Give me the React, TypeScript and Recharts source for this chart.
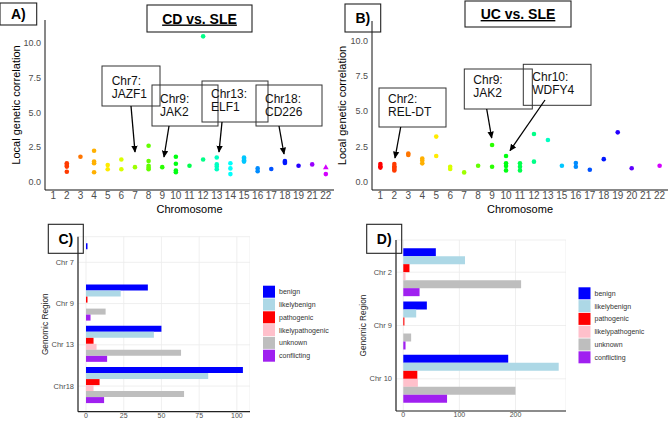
import React from "react";
import { ScatterChart, Scatter, BarChart, Bar, XAxis, YAxis, CartesianGrid } from "recharts";

const FONT = '"Liberation Sans", Arial, Helvetica, sans-serif';
const TICK_GREY = "#4d4d4d";

// A) CD vs. SLE — local genetic correlation per chromosome (one list of values per chromosome)
const cdChromosomes = ["1", "2", "3", "4", "5", "6", "7", "8", "9", "10", "11", "12", "13", "14", "15", "16", "17", "18", "19", "21", "22"];
const cdValues: number[][] = [
  [],
  [1.33, 1.21, 1.09, 0.72],
  [1.8],
  [2.24, 1.45, 1.33, 0.68],
  [1.2, 0.9],
  [1.6, 0.9],
  [1.05],
  [2.6, 1.5, 1.15, 1.0, 0.9],
  [1.05],
  [1.8, 1.3, 0.8, 0.68],
  [1.15],
  [10.5, 1.6],
  [1.75, 1.25, 1.1, 0.9],
  [1.33, 0.96, 0.55],
  [1.75, 1.65, 1.55, 1.45],
  [0.96, 0.75],
  [0.92],
  [1.5, 1.42, 1.35],
  [1.15],
  [1.25],
  [0.55],
];
// the one triangle-shaped point on chromosome 22
const cdTriangleChromosome = "22";
const cdTriangleValues = [1.05];

// B) UC vs. SLE
const ucChromosomes = ["1", "2", "3", "4", "5", "6", "7", "8", "9", "10", "11", "12", "13", "15", "16", "17", "18", "19", "20", "21", "22"];
const ucValues: number[][] = [
  [1.25, 1.1, 1.0],
  [1.25, 1.1, 1.0, 0.9, 0.8],
  [2.0, 1.9],
  [1.65, 1.5, 1.3],
  [3.2, 1.82],
  [1.06, 0.9],
  [0.66],
  [1.13],
  [2.6, 1.06],
  [1.82, 1.3, 1.11, 0.8],
  [1.3, 1.06, 0.8],
  [3.38, 1.42],
  [2.96],
  [1.13],
  [1.32, 1.06],
  [0.85],
  [1.6],
  [3.5],
  [0.95],
  [],
  [1.13],
];
const correlationTicks = [0, 2.5, 5, 7.5, 10];

// C) / D) variant counts by clinical class
const variantClasses = ["benign", "likelybenign", "pathogenic", "likelypathogenic", "unknown", "conflicting"];
const classColors = ["#0000ff", "#add8e6", "#ff0000", "#ffc0cb", "#bebebe", "#a020f0"];

const cRegions = ["Chr 7", "Chr 9", "Chr 13", "Chr18"];
const cBenign = [1, 41, 50, 104];
const cLikelybenign = [0, 23, 45, 81];
const cPathogenic = [0, 1, 5, 9];
const cLikelypathogenic = [0, 0, 7, 5];
const cUnknown = [0, 13, 63, 65];
const cConflicting = [0, 3, 14, 12];
const cTicks = [0, 25, 50, 75, 100];

const dRegions = ["Chr 2", "Chr 9", "Chr 10"];
const dBenign = [58, 42, 187];
const dLikelybenign = [110, 23, 277];
const dPathogenic = [11, 2, 25];
const dLikelypathogenic = [4, 0, 26];
const dUnknown = [210, 14, 200];
const dConflicting = [29, 4, 78];
const dTicks = [0, 100, 200];

const chromColor = (chr: string) => `hsl(${(Number(chr) - 1) * 13.8}, 100%, 50%)`;

function toPoints(chroms: string[], values: number[][]) {
  return chroms.flatMap((c, i) => values[i].map((v) => ({ x: i, y: v, color: chromColor(c) })));
}

function barRows(regions: string[], series: number[][]) {
  return regions.map((region, i) => {
    const row: Record<string, string | number> = { region };
    variantClasses.forEach((c, k) => (row[c] = series[k][i]));
    return row;
  });
}

const Dot = (p: any) => <circle cx={p.cx} cy={p.cy} r={2.3} fill={p.payload.color} />;
const Tri = (p: any) => (
  <polygon points={`${p.cx},${p.cy - 3} ${p.cx - 2.8},${p.cy + 2.2} ${p.cx + 2.8},${p.cy + 2.2}`} fill={p.payload.color} />
);

type CorrProps = {
  chroms: string[];
  points: { x: number; y: number; color: string }[];
  triangles?: { x: number; y: number; color: string }[];
  left: number;
  width: number;
  plotTop: number;
  yWidth: number;
  yDomain: [number, number];
  labelOffset: number;
};

function CorrelationPanel({ chroms, points, triangles, left, width, plotTop, yWidth, yDomain, labelOffset }: CorrProps) {
  return (
    <div style={{ position: "absolute", left, top: 0 }}>
      <ScatterChart width={width} height={220} margin={{ top: plotTop, right: 1, bottom: 0, left: 0 }}>
        <XAxis
          type="number"
          dataKey="x"
          domain={[-0.6, chroms.length - 0.4]}
          allowDataOverflow
          ticks={chroms.map((_, i) => i)}
          interval={0}
          tickFormatter={(i: number) => chroms[i]}
          height={30}
          tickLine={false}
          tickSize={0}
          tickMargin={2}
          axisLine={{ stroke: "#111" }}
          tick={{ fill: TICK_GREY, fontSize: 10, fontFamily: FONT }}
          label={{ value: "Chromosome", position: "insideBottom", offset: 7, fill: "#000", fontSize: 11, fontFamily: FONT }}
        />
        <YAxis
          type="number"
          dataKey="y"
          domain={yDomain}
          allowDataOverflow
          ticks={correlationTicks}
          tickFormatter={(v: number) => v.toFixed(1)}
          width={yWidth}
          tickLine={false}
          tickSize={0}
          tickMargin={4}
          axisLine={{ stroke: "#111" }}
          tick={{ fill: TICK_GREY, fontSize: 9, fontFamily: FONT }}
          label={{
            value: "Local genetic correlation",
            angle: -90,
            position: "insideLeft",
            offset: labelOffset,
            fill: "#000",
            fontSize: 11,
            fontFamily: FONT,
            style: { textAnchor: "middle" },
          }}
        />
        <Scatter data={points} shape={Dot} isAnimationActive={false} />
        {triangles && <Scatter data={triangles} shape={Tri} isAnimationActive={false} />}
      </ScatterChart>
    </div>
  );
}

type BarProps = {
  regions: string[];
  series: number[][];
  ticks: number[];
  xDomain: [number, number];
  left: number;
  width: number;
  plotTop: number;
  xHeight: number;
  yWidth: number;
  padding: number;
  gap: string;
  labelOffset: number;
};

function VariantPanel({ regions, series, ticks, xDomain, left, width, plotTop, xHeight, yWidth, padding, gap, labelOffset }: BarProps) {
  return (
    <div style={{ position: "absolute", left, top: 210 }}>
      <BarChart
        layout="vertical"
        width={width}
        height={212}
        data={barRows(regions, series)}
        margin={{ top: plotTop, right: 0, bottom: 0, left: 0 }}
        barCategoryGap={gap}
        barGap={0}
      >
        <CartesianGrid stroke="#ebebeb" strokeWidth={0.8} />
        <XAxis
          type="number"
          domain={xDomain}
          allowDataOverflow
          ticks={ticks}
          interval={0}
          height={xHeight}
          tickLine={false}
          tickSize={0}
          tickMargin={1}
          axisLine={{ stroke: "#222", strokeWidth: 1.2 }}
          tick={{ fill: TICK_GREY, fontSize: 7, fontFamily: FONT }}
        />
        <YAxis
          type="category"
          dataKey="region"
          width={yWidth}
          padding={{ top: padding, bottom: padding }}
          tickLine={false}
          tickSize={0}
          tickMargin={4}
          axisLine={{ stroke: "#222", strokeWidth: 1.2 }}
          tick={{ fill: TICK_GREY, fontSize: 7.5, fontFamily: FONT }}
          label={{
            value: "Genomic Region",
            angle: -90,
            position: "insideLeft",
            offset: labelOffset,
            fill: "#222",
            fontSize: 8.3,
            fontFamily: FONT,
            style: { textAnchor: "middle" },
          }}
        />
        {variantClasses.map((c, k) => (
          <Bar key={c} dataKey={c} fill={classColors[k]} isAnimationActive={false} />
        ))}
      </BarChart>
    </div>
  );
}

function Legend({ x, y }: { x: number; y: number }) {
  return (
    <g>
      {variantClasses.map((c, k) => (
        <g key={c} transform={`translate(${x}, ${y + k * 12.8})`}>
          <rect x={0} y={-6} width={12} height={12} fill={classColors[k]} />
          <text x={16} y={2.5} fontSize={7} fill="#333" fontFamily={FONT}>
            {c}
          </text>
        </g>
      ))}
    </g>
  );
}

type Note = { box: [number, number, number, number]; lines: string[]; tx: number; ty: number; from: [number, number]; to: [number, number] };

const cdNotes: Note[] = [
  { box: [102, 66, 58, 40], lines: ["Chr7:", "JAZF1"], tx: 111.7, ty: 84.5, from: [131, 106], to: [135, 152] },
  { box: [152, 85, 66, 41], lines: ["Chr9:", "JAK2"], tx: 160, ty: 102.5, from: [169, 126], to: [164, 157] },
  { box: [202, 81, 66, 41], lines: ["Chr13:", "ELF1"], tx: 211, ty: 98.3, from: [222, 122], to: [219, 152] },
  { box: [256, 85, 66, 41], lines: ["Chr18:", "CD226"], tx: 265, ty: 102.5, from: [279, 126], to: [284, 154] },
];
const ucNotes: Note[] = [
  { box: [379, 88, 67, 39], lines: ["Chr2:", "REL-DT"], tx: 388, ty: 103.3, from: [400.7, 127], to: [395, 158] },
  { box: [464.3, 69, 68, 40], lines: ["Chr9:", "JAK2"], tx: 473.3, ty: 84.3, from: [486.7, 109], to: [491.7, 138] },
  { box: [523.3, 64.3, 67.7, 41], lines: ["Chr10:", "WDFY4"], tx: 532.3, ty: 81.3, from: [545, 100], to: [510, 150.7] },
];

function Overlay() {
  const panelLabel = (x: number, y: number, w: number, h: number, t: string) => (
    <g>
      <rect x={x} y={y} width={w} height={h} fill="none" stroke="#222" strokeWidth={1.1} />
      <text x={x + w / 2} y={y + h / 2 + 5} textAnchor="middle" fontSize={14} fontWeight="bold" fontFamily={FONT} fill="#000">
        {t}
      </text>
    </g>
  );
  const title = (x: number, y: number, w: number, h: number, t: string) => (
    <g>
      <rect x={x} y={y} width={w} height={h} fill="#fff" stroke="#222" strokeWidth={1.1} />
      <text
        x={x + w / 2}
        y={y + h / 2 + 5}
        textAnchor="middle"
        fontSize={14}
        fontWeight="bold"
        fontFamily={FONT}
        fill="#000"
        style={{ textDecoration: "underline" }}
      >
        {t}
      </text>
    </g>
  );
  return (
    <svg width={669} height={422} style={{ position: "absolute", left: 0, top: 0, pointerEvents: "none" }}>
      <defs>
        <marker id="head" viewBox="0 0 10 10" refX="9" refY="5" markerWidth="7" markerHeight="7" markerUnits="userSpaceOnUse" orient="auto">
          <path d="M0,0.5 L10,5 L0,9.5 z" fill="#000" />
        </marker>
      </defs>
      {panelLabel(0, 3, 36.7, 22, "A)")}
      {panelLabel(345, 4, 35.7, 28, "B)")}
      {panelLabel(48.3, 224.3, 35, 29, "C)")}
      {panelLabel(366.7, 224.3, 35, 29, "D)")}
      {title(147, 5, 105, 27, "CD vs. SLE")}
      {title(465, 1, 106, 26, "UC vs. SLE")}
      {[...cdNotes, ...ucNotes].map((n, i) => (
        <g key={i}>
          <rect x={n.box[0]} y={n.box[1]} width={n.box[2]} height={n.box[3]} fill="none" stroke="#333" strokeWidth={1} />
          {n.lines.map((l, j) => (
            <text key={j} x={n.tx} y={n.ty + j * 13} fontSize={12} fontFamily={FONT} fill="#111">
              {l}
            </text>
          ))}
          <line x1={n.from[0]} y1={n.from[1]} x2={n.to[0]} y2={n.to[1]} stroke="#000" strokeWidth={1.3} markerEnd="url(#head)" />
        </g>
      ))}
      <Legend x={263} y={291.7} />
      <Legend x={578.5} y={293.3} />
    </svg>
  );
}

export default function App() {
  const cdPoints = toPoints(cdChromosomes, cdValues);
  const cdTri = cdTriangleValues.map((v) => ({
    x: cdChromosomes.indexOf(cdTriangleChromosome),
    y: v,
    color: chromColor(cdTriangleChromosome),
  }));
  const ucPoints = toPoints(ucChromosomes, ucValues);
  return (
    <div style={{ position: "absolute", left: 0, top: 0, width: 669, height: 422, background: "#fff", overflow: "hidden", fontFamily: FONT }}>
      <CorrelationPanel
        chroms={cdChromosomes}
        points={cdPoints}
        triangles={cdTri}
        left={0}
        width={335}
        plotTop={20}
        yWidth={45}
        yDomain={[-0.6, 11.68]}
        labelOffset={16.5}
      />
      <CorrelationPanel
        chroms={ucChromosomes}
        points={ucPoints}
        left={335}
        width={334}
        plotTop={21}
        yWidth={37}
        yDomain={[-0.59, 11.4]}
        labelOffset={7}
      />
      <VariantPanel
        regions={cRegions}
        series={[cBenign, cLikelybenign, cPathogenic, cLikelypathogenic, cUnknown, cConflicting]}
        ticks={cTicks}
        xDomain={[-5.3, 108.7]}
        left={0}
        width={250}
        plotTop={26.7}
        xHeight={10.3}
        yWidth={78}
        padding={5}
        gap="4%"
        labelOffset={45}
      />
      <VariantPanel
        regions={dRegions}
        series={[dBenign, dLikelybenign, dPathogenic, dLikelypathogenic, dUnknown, dConflicting]}
        ticks={dTicks}
        xDomain={[-13, 290]}
        left={335}
        width={231}
        plotTop={30}
        xHeight={11}
        yWidth={61}
        padding={5.5}
        gap="5%"
        labelOffset={28}
      />
      <Overlay />
    </div>
  );
}
